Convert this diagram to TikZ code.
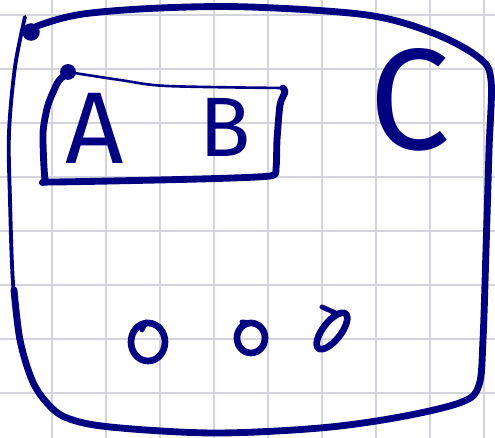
\documentclass[tikz,border=0pt]{standalone}
\usepackage{fontspec}
\setmainfont{Fira Sans}
\usetikzlibrary{calc,positioning}
\definecolor{sketchink}{HTML}{000080}
\definecolor{sketchgrid}{HTML}{D4D4DC}

\begin{document}
\begin{tikzpicture}[x=0.02cm, y=-0.02cm,
  gridline/.style={draw=sketchgrid, line width=0.8pt},
  ink/.style={draw=sketchink, line width=#1, line cap=round, line join=round},
  ink/.default=3pt,
  letter/.style={text=sketchink, inner sep=0pt, font=\fontsize{#1}{#1}\selectfont},
  blot/.style={circle, fill=sketchink, inner sep=0pt, minimum size=#1}
]
  \useasboundingbox (0,0) rectangle (495,438);
  \fill[white] (0,0) rectangle (495,438);

  % squared paper
  \foreach \gx in {52,106,...,484} \draw[gridline] (\gx,0) -- (\gx,438);
  \foreach \gy in {15,69,...,393} \draw[gridline] (0,\gy) -- (495,\gy);

  % outer frame (C)
  \draw[ink=2.2pt] plot[smooth, tension=0.55] coordinates {(20,340) (13,283) (10,200) (9,133) (15,67) (25,17)};
  \draw[ink=3.9pt] plot[smooth, tension=0.55] coordinates {(31,32) (40,25) (83,14) (160,8) (250,7) (367,15) (433,33) (478,57) (491,80) (489,150) (486,250) (483,340) (479,385) (462,402) (400,417) (320,428) (213,433) (110,427) (67,418) (47,403) (32,380) (20,340) (14,290)};
  \node[blot=10pt] (frametip) at (31,32) {};

  % inner box (A, B)
  \draw[ink=1.5pt] plot[smooth, tension=0.5] coordinates {(68,72) (120,80) (167,86) (283,88)};
  \draw[ink=3.9pt] plot[smooth, tension=0.4] coordinates {(283,88) (285,92) (280,105) (277,140) (276,168) (270,176) (200,179) (52,182) (45,179) (43,133) (48,105) (58,82) (68,72)};
  \node[blot=9pt] (boxtip) at (68,72) {};

  % labels
  \node[letter=58pt] (labA) at (95,128) {A};
  \node[letter=48pt] (labB) at (225,127) {B};
  \node[letter=82pt] (labC) at (410,100) {C};

  % three little rings
  \draw[ink=3.8pt] (148,342) ellipse [x radius=17, y radius=19];
  \draw[ink=2.8pt] (146,322) -- (142,330);
  \draw[ink=3.8pt] (251,338) ellipse [x radius=14, y radius=15];
  \draw[ink=2.8pt] (242,322) -- (253,323);
  \draw[ink=3.8pt, rotate around={52:(332,331)}] (332,331) ellipse [x radius=22, y radius=9];
  \draw[ink=2.8pt] (322,307) -- (338,314);
\end{tikzpicture}
\end{document}
